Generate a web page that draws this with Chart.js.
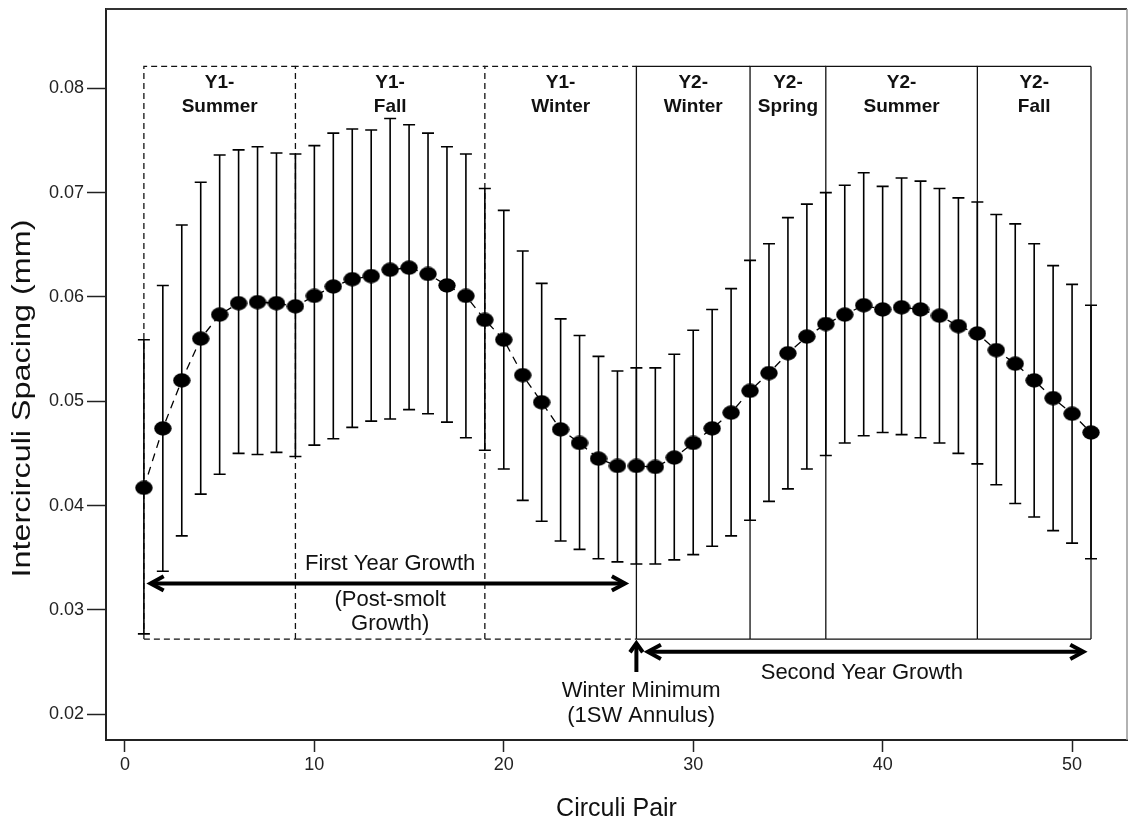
<!DOCTYPE html>
<html>
<head>
<meta charset="utf-8">
<script src="https://cdn.jsdelivr.net/npm/chart.js@4.4.0/dist/chart.umd.min.js"></script>
<style>
  html, body { margin: 0; padding: 0; background: #fff; }
  #wrap { width: 1128px; height: 822px; }
</style>
</head>
<body>
<div id="wrap"><canvas id="chart" width="1128" height="822"></canvas></div>
<script>
// Circuli pair index (x) and intercirculi spacing statistics (mm)
const circuliPair = [1,2,3,4,5,6,7,8,9,10,11,12,13,14,15,16,17,18,19,20,21,22,23,24,25,26,27,28,29,30,31,32,33,34,35,36,37,38,39,40,41,42,43,44,45,46,47,48,49,50,51];

const meanSpacing = [
  0.0417, 0.0474, 0.0520, 0.0560, 0.0583, 0.0594, 0.0595, 0.0594, 0.0591, 0.0601,
  0.0610, 0.0617, 0.0620, 0.0626, 0.0628, 0.0622, 0.0611, 0.0601, 0.0578, 0.0559,
  0.0525, 0.0499, 0.0473, 0.0460, 0.0445, 0.0438, 0.0438, 0.0437, 0.0446, 0.0460,
  0.0474, 0.0489, 0.0510, 0.0527, 0.0546, 0.0562, 0.0574, 0.0583, 0.0592, 0.0588,
  0.0590, 0.0588, 0.0582, 0.0572, 0.0565, 0.0549, 0.0536, 0.0520, 0.0503, 0.0488,
  0.0470
];

const upperSpacing = [
  0.0559, 0.0611, 0.0669, 0.0710, 0.0736, 0.0741, 0.0744, 0.0738, 0.0737, 0.0745,
  0.0757, 0.0761, 0.0760, 0.0771, 0.0765, 0.0757, 0.0744, 0.0737, 0.0704, 0.0683,
  0.0644, 0.0613, 0.0579, 0.0563, 0.0543, 0.0529, 0.0532, 0.0532, 0.0545, 0.0568,
  0.0588, 0.0608, 0.0635, 0.0651, 0.0676, 0.0689, 0.0700, 0.0707, 0.0719, 0.0706,
  0.0714, 0.0711, 0.0704, 0.0695, 0.0691, 0.0679, 0.0670, 0.0651, 0.0630, 0.0612,
  0.0592
];

const lowerSpacing = [
  0.0277, 0.0337, 0.0371, 0.0411, 0.0430, 0.0450, 0.0449, 0.0451, 0.0447, 0.0458,
  0.0464, 0.0475, 0.0481, 0.0483, 0.0492, 0.0488, 0.0480, 0.0465, 0.0453, 0.0435,
  0.0405, 0.0385, 0.0366, 0.0358, 0.0349, 0.0346, 0.0344, 0.0344, 0.0348, 0.0353,
  0.0361, 0.0371, 0.0386, 0.0404, 0.0416, 0.0435, 0.0448, 0.0460, 0.0467, 0.0470,
  0.0468, 0.0465, 0.0460, 0.0450, 0.0440, 0.0420, 0.0402, 0.0389, 0.0376, 0.0364,
  0.0349
];

// Season boundaries (circuli pair) and their labels
const seasonBounds = [1, 9, 19, 27, 33, 37, 45, 51];
const seasonLabels = [
  ['Y1-', 'Summer'], ['Y1-', 'Fall'], ['Y1-', 'Winter'],
  ['Y2-', 'Winter'], ['Y2-', 'Spring'], ['Y2-', 'Summer'], ['Y2-', 'Fall']
];
const firstYearSeasons = 3;      // the first three boxes are drawn dashed
const seasonBoxTop = 0.0821;
const seasonBoxBottom = 0.0272;

const xTickValues = [0, 10, 20, 30, 40, 50];
const yTickValues = [0.02, 0.03, 0.04, 0.05, 0.06, 0.07, 0.08];

const yTitle = 'Intercirculi Spacing (mm)';
const xTitle = 'Circuli Pair';

const FONT = '"Liberation Sans", Arial, sans-serif';

// Elliptical marker
function makeMarker(w, h) {
  const c = document.createElement('canvas');
  c.width = w; c.height = h;
  const g = c.getContext('2d');
  g.fillStyle = '#000';
  g.beginPath();
  g.ellipse(w / 2, h / 2, w / 2 - 0.3, h / 2 - 0.3, 0, 0, Math.PI * 2);
  g.fill();
  return c;
}
const marker = makeMarker(18, 15);

function chevron(ctx, x, y, ang, size, spread) {
  ctx.beginPath();
  ctx.moveTo(x - size * Math.cos(ang - spread), y - size * Math.sin(ang - spread));
  ctx.lineTo(x, y);
  ctx.lineTo(x - size * Math.cos(ang + spread), y - size * Math.sin(ang + spread));
  ctx.stroke();
}

function noMargins(scale) {
  scale.paddingLeft = 0;
  scale.paddingRight = 0;
  scale.paddingTop = 0;
  scale.paddingBottom = 0;
}

// Season boxes, error bars, frame, annotations
const backdrop = {
  id: 'backdrop',
  beforeDatasetsDraw(chart) {
    const { ctx, chartArea } = chart;
    const sx = chart.scales.x, sy = chart.scales.y;
    const px = v => sx.getPixelForValue(v);
    const py = v => sy.getPixelForValue(v);
    ctx.save();

    // frame top and right
    ctx.strokeStyle = '#333';
    ctx.lineWidth = 2;
    ctx.beginPath();
    ctx.moveTo(chartArea.left, chartArea.top);
    ctx.lineTo(chartArea.right, chartArea.top);
    ctx.stroke();
    ctx.strokeStyle = '#999';
    ctx.lineWidth = 1.5;
    ctx.beginPath();
    ctx.moveTo(chartArea.right, chartArea.top);
    ctx.lineTo(chartArea.right, chartArea.bottom);
    ctx.stroke();

    // season boxes
    const yT = py(seasonBoxTop), yB = py(seasonBoxBottom);
    ctx.strokeStyle = '#111';
    ctx.lineWidth = 1.3;
    for (let i = 0; i < seasonLabels.length; i++) {
      const x0 = px(seasonBounds[i]), x1 = px(seasonBounds[i + 1]);
      ctx.setLineDash(i < firstYearSeasons ? [6, 4] : []);
      ctx.beginPath();
      ctx.moveTo(x0, yB); ctx.lineTo(x0, yT); ctx.lineTo(x1, yT);
      ctx.moveTo(x0, yB); ctx.lineTo(x1, yB);
      ctx.stroke();
    }
    ctx.setLineDash([]);
    const xe = px(seasonBounds[seasonBounds.length - 1]);
    ctx.beginPath(); ctx.moveTo(xe, yT); ctx.lineTo(xe, yB); ctx.stroke();

    // season labels
    ctx.fillStyle = '#111';
    ctx.font = 'bold 19px ' + FONT;
    ctx.textAlign = 'center';
    ctx.textBaseline = 'middle';
    for (let i = 0; i < seasonLabels.length; i++) {
      const xc = px((seasonBounds[i] + seasonBounds[i + 1]) / 2);
      ctx.fillText(seasonLabels[i][0], xc, py(0.0805));
      ctx.fillText(seasonLabels[i][1], xc, py(0.0782));
    }

    // error bars
    ctx.strokeStyle = '#000';
    ctx.lineWidth = 1.6;
    const cap = 6;
    for (let i = 0; i < circuliPair.length; i++) {
      const x = px(circuliPair[i]);
      const yu = py(upperSpacing[i]), yl = py(lowerSpacing[i]);
      ctx.beginPath();
      ctx.moveTo(x, yu); ctx.lineTo(x, yl);
      ctx.moveTo(x - cap, yu); ctx.lineTo(x + cap, yu);
      ctx.moveTo(x - cap, yl); ctx.lineTo(x + cap, yl);
      ctx.stroke();
    }
    ctx.restore();
  },
  afterDatasetsDraw(chart) {
    const { ctx, chartArea } = chart;
    const sx = chart.scales.x, sy = chart.scales.y;
    const px = v => sx.getPixelForValue(v);
    const py = v => sy.getPixelForValue(v);
    ctx.save();
    ctx.strokeStyle = '#000';
    ctx.fillStyle = '#000';
    ctx.lineCap = 'butt';
    ctx.lineJoin = 'miter';

    // first year growth arrow
    const ya = py(0.03254);
    const xa0 = px(1.35), xa1 = px(26.4);
    ctx.lineWidth = 4;
    ctx.beginPath(); ctx.moveTo(xa0 + 2, ya); ctx.lineTo(xa1 - 2, ya); ctx.stroke();
    chevron(ctx, xa0, ya, Math.PI, 15, 0.5);
    chevron(ctx, xa1, ya, 0, 15, 0.5);

    // second year growth arrow
    const yb = py(0.02598);
    const xb0 = px(27.6), xb1 = px(50.6);
    ctx.beginPath(); ctx.moveTo(xb0 + 2, yb); ctx.lineTo(xb1 - 2, yb); ctx.stroke();
    chevron(ctx, xb0, yb, Math.PI, 15, 0.5);
    chevron(ctx, xb1, yb, 0, 15, 0.5);

    // winter minimum marker
    const xm = px(27);
    const ym0 = py(0.0268), ym1 = py(0.02405);
    ctx.beginPath(); ctx.moveTo(xm, ym1); ctx.lineTo(xm, ym0 + 2); ctx.stroke();
    chevron(ctx, xm, ym0, -Math.PI / 2, 11, 0.62);

    // annotation text
    ctx.font = '22px ' + FONT;
    ctx.textAlign = 'center';
    ctx.textBaseline = 'middle';
    ctx.fillStyle = '#111';
    ctx.fillText('First Year Growth', px(14.0), py(0.0344));
    ctx.fillText('(Post-smolt', px(14.0), py(0.03094));
    ctx.fillText('Growth)', px(14.0), py(0.02864));
    ctx.fillText('Second Year Growth', px(38.9), py(0.0240));
    ctx.fillText('Winter Minimum', px(27.25), py(0.02224));
    ctx.fillText('(1SW Annulus)', px(27.25), py(0.01987));

    // y axis title, set in a stretched face
    ctx.save();
    ctx.translate(22.5, (chartArea.top + chartArea.bottom) / 2 + 24);
    ctx.rotate(-Math.PI / 2);
    ctx.scale(1.245, 1);
    ctx.font = '26px ' + FONT;
    ctx.fillStyle = '#111';
    ctx.fillText(yTitle, 0, 0);
    ctx.restore();

    ctx.restore();
  }
};

new Chart(document.getElementById('chart'), {
  type: 'scatter',
  data: {
    datasets: [{
      data: circuliPair.map((x, i) => ({ x, y: meanSpacing[i] })),
      showLine: true,
      borderColor: '#000',
      borderWidth: 1.3,
      borderDash: [8, 6],
      pointStyle: marker,
      pointRadius: 9,
      pointHoverRadius: 9,
      backgroundColor: '#000'
    }]
  },
  options: {
    responsive: false,
    animation: false,
    devicePixelRatio: 1,
    layout: { autoPadding: false, padding: { top: 9, right: 1, left: 0, bottom: 0 } },
    plugins: { legend: { display: false }, tooltip: { enabled: false } },
    scales: {
      x: {
        type: 'linear',
        min: -1,
        max: 52.9,
        afterFit(scale) { scale.height = 82; noMargins(scale); },
        afterBuildTicks(axis) { axis.ticks = xTickValues.map(v => ({ value: v })); },
        grid: { drawOnChartArea: false, tickLength: 12, tickWidth: 1.5, tickColor: '#222' },
        border: { color: '#222', width: 2 },
        ticks: {
          padding: 2,
          color: '#222',
          font: { family: FONT, size: 18 },
          callback: v => String(v)
        },
        title: {
          display: true,
          text: xTitle,
          color: '#111',
          font: { family: FONT, size: 25 },
          padding: { top: 0, bottom: -2 }
        }
      },
      y: {
        type: 'linear',
        min: 0.01753,
        max: 0.0876,
        afterFit(scale) { scale.width = 106; noMargins(scale); },
        afterBuildTicks(axis) { axis.ticks = yTickValues.map(v => ({ value: v })); },
        grid: { drawOnChartArea: false, tickLength: 19, tickWidth: 1.5, tickColor: '#222' },
        border: { color: '#222', width: 2 },
        ticks: {
          padding: 3,
          color: '#222',
          font: { family: FONT, size: 18 },
          callback: v => v.toFixed(2)
        },
        title: { display: false }
      }
    }
  },
  plugins: [backdrop]
});
</script>
</body>
</html>
